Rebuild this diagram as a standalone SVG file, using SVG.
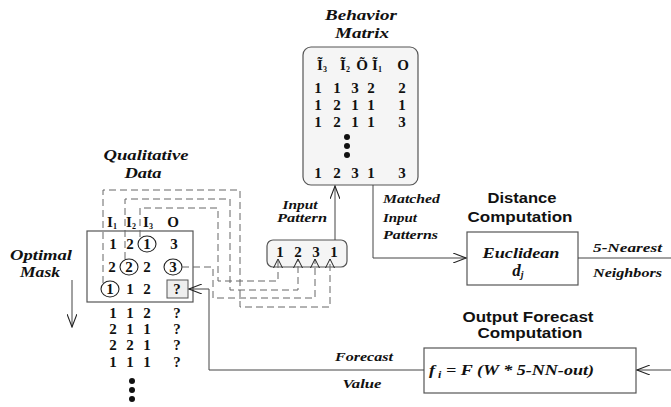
<svg xmlns="http://www.w3.org/2000/svg" width="671" height="407" viewBox="0 0 671 407">
<style>
  .bi { font-family: "Liberation Serif", serif; font-weight: bold; font-style: italic; fill: #111; }
  .it { font-family: "Liberation Serif", serif; font-style: italic; font-weight: bold; fill: #111; }
  .bs { font-family: "Liberation Sans", sans-serif; font-weight: bold; fill: #111; }
  .num { font-family: "Liberation Serif", serif; font-weight: bold; font-size: 15px; fill: #111; text-anchor: middle; }
  .box { fill: #fff; stroke: #555; stroke-width: 1.2; }
  .rbox { fill: #f5f5f5; stroke: #555; stroke-width: 1.2; }
  .line { fill: none; stroke: #444; stroke-width: 1; }
  .dash { fill: none; stroke: #666; stroke-width: 1; stroke-dasharray: 7 4; }
  .circ { fill: none; stroke: #222; stroke-width: 1.1; }
</style>
<defs>
  <marker id="v" viewBox="0 0 14 10" refX="13" refY="5" markerWidth="14" markerHeight="10" markerUnits="userSpaceOnUse" orient="auto">
    <path d="M0,0 L13,5 L0,10" fill="none" stroke="#222" stroke-width="1.1"/>
  </marker>
  <marker id="vs" viewBox="0 0 10 10" refX="9" refY="5" markerWidth="10" markerHeight="10" markerUnits="userSpaceOnUse" orient="auto">
    <path d="M0,0.5 L9,5 L0,9.5" fill="none" stroke="#222" stroke-width="1"/>
  </marker>
</defs>

<g id="behavior-matrix">
  <text class="bi" x="361" y="20" font-size="14" text-anchor="middle" textLength="72" lengthAdjust="spacingAndGlyphs">Behavior</text>
  <text class="bi" x="362" y="38" font-size="14" text-anchor="middle" textLength="54" lengthAdjust="spacingAndGlyphs">Matrix</text>
  <rect class="rbox" x="303" y="47" width="115" height="138" rx="8"/>
  <text class="num" x="322" y="70">Ĩ<tspan font-size="8" dy="2">3</tspan></text>
  <text class="num" x="345" y="70">Ĩ<tspan font-size="8" dy="2">2</tspan></text>
  <text class="num" x="362" y="70">Õ</text>
  <text class="num" x="377" y="70">Ĩ<tspan font-size="8" dy="2">1</tspan></text>
  <text class="num" x="403" y="70">O</text>
  <g>
    <text class="num" x="318" y="93">1</text><text class="num" x="337" y="93">1</text><text class="num" x="355" y="93">3</text><text class="num" x="371" y="93">2</text><text class="num" x="402" y="93">2</text>
    <text class="num" x="318" y="110">1</text><text class="num" x="337" y="110">2</text><text class="num" x="355" y="110">1</text><text class="num" x="371" y="110">1</text><text class="num" x="402" y="110">1</text>
    <text class="num" x="318" y="127">1</text><text class="num" x="337" y="127">2</text><text class="num" x="355" y="127">1</text><text class="num" x="371" y="127">1</text><text class="num" x="402" y="127">3</text>
    <circle cx="347" cy="137" r="3" fill="#111"/><circle cx="347" cy="146" r="3" fill="#111"/><circle cx="347" cy="155" r="3" fill="#111"/>
    <text class="num" x="318" y="178">1</text><text class="num" x="337" y="178">2</text><text class="num" x="355" y="178">3</text><text class="num" x="371" y="178">1</text><text class="num" x="402" y="178">3</text>
  </g>
</g>

<g id="qualitative-data">
  <text class="bi" x="146" y="160" font-size="15" text-anchor="middle" textLength="85" lengthAdjust="spacingAndGlyphs">Qualitative</text>
  <text class="bi" x="143" y="178" font-size="15" text-anchor="middle" textLength="37" lengthAdjust="spacingAndGlyphs">Data</text>
  <text class="num" x="112" y="227">I<tspan font-size="8" dy="2">1</tspan></text>
  <text class="num" x="131" y="227">I<tspan font-size="8" dy="2">2</tspan></text>
  <text class="num" x="148" y="227">I<tspan font-size="8" dy="2">3</tspan></text>
  <text class="num" x="173" y="227">O</text>
  <rect class="box" x="87" y="231" width="106" height="71" fill="none"/>
  <rect x="167" y="280" width="21" height="18" fill="#eee" stroke="#555" stroke-width="1"/>
  <text class="num" x="113" y="249">1</text><text class="num" x="130" y="249">2</text><text class="num" x="147" y="249">1</text><text class="num" x="174" y="249">3</text>
  <text class="num" x="112" y="272">2</text><text class="num" x="129" y="272">2</text><text class="num" x="147" y="272">2</text><text class="num" x="173" y="272">3</text>
  <text class="num" x="110" y="294">1</text><text class="num" x="130" y="294">1</text><text class="num" x="147" y="294">2</text><text class="num" x="177" y="294">?</text>
  <ellipse class="circ" cx="147" cy="244" rx="9" ry="8"/>
  <ellipse class="circ" cx="129" cy="267" rx="9" ry="8"/>
  <ellipse class="circ" cx="173" cy="267" rx="9" ry="8"/>
  <ellipse class="circ" cx="110" cy="289" rx="9" ry="8"/>
  <text class="num" x="113" y="318">1</text><text class="num" x="130" y="318">1</text><text class="num" x="147" y="318">2</text><text class="num" x="177" y="318">?</text>
  <text class="num" x="113" y="334">2</text><text class="num" x="130" y="334">1</text><text class="num" x="147" y="334">1</text><text class="num" x="177" y="334">?</text>
  <text class="num" x="113" y="350">2</text><text class="num" x="130" y="350">2</text><text class="num" x="147" y="350">1</text><text class="num" x="177" y="350">?</text>
  <text class="num" x="113" y="367">1</text><text class="num" x="130" y="367">1</text><text class="num" x="147" y="367">1</text><text class="num" x="177" y="367">?</text>
  <circle cx="132" cy="381" r="3" fill="#111"/><circle cx="132" cy="390" r="3" fill="#111"/><circle cx="132" cy="399" r="3" fill="#111"/>
</g>

<g id="optimal-mask">
  <text class="bi" x="41" y="260" font-size="14" text-anchor="middle" textLength="62" lengthAdjust="spacingAndGlyphs">Optimal</text>
  <text class="bi" x="40" y="277" font-size="14" text-anchor="middle" textLength="40" lengthAdjust="spacingAndGlyphs">Mask</text>
</g>

<g id="input-pattern">
  <text class="it" x="300" y="209" font-size="12" text-anchor="middle" textLength="35" lengthAdjust="spacingAndGlyphs">Input</text>
  <text class="it" x="302" y="222" font-size="12" text-anchor="middle" textLength="50" lengthAdjust="spacingAndGlyphs">Pattern</text>
  <rect class="rbox" x="267" y="240" width="80" height="27" rx="6"/>
  <text class="num" x="280" y="257">1</text><text class="num" x="298" y="257">2</text><text class="num" x="316" y="257">3</text><text class="num" x="334" y="257">1</text>
</g>

<g id="distance-computation">
  <text class="bs" x="522" y="203" font-size="14" text-anchor="middle" textLength="69" lengthAdjust="spacingAndGlyphs">Distance</text>
  <text class="bs" x="520" y="222" font-size="14" text-anchor="middle" textLength="105" lengthAdjust="spacingAndGlyphs">Computation</text>
  <rect class="box" x="467" y="232" width="111" height="53"/>
  <text class="bi" x="521" y="258" font-size="14" text-anchor="middle" textLength="77" lengthAdjust="spacingAndGlyphs">Euclidean</text>
  <text class="bi" x="518" y="276" font-size="17" text-anchor="middle">d<tspan font-size="10" dy="2">j</tspan></text>
</g>

<g id="output-forecast">
  <text class="bs" x="528" y="322" font-size="14" text-anchor="middle" textLength="131" lengthAdjust="spacingAndGlyphs">Output Forecast</text>
  <text class="bs" x="530" y="338" font-size="14" text-anchor="middle" textLength="105" lengthAdjust="spacingAndGlyphs">Computation</text>
  <rect class="box" x="424" y="348" width="212" height="45"/>
  <text class="bi" x="429" y="375" font-size="15" textLength="165" lengthAdjust="spacingAndGlyphs">f<tspan font-size="10" dy="3"> i</tspan><tspan dy="-3"> = F (W * 5-NN-out)</tspan></text>
</g>

<g id="connectors">
  <path class="dash" d="M103,283 V190 H240 V307 H330 V259" marker-end="url(#vs)"/>
  <path class="dash" d="M125,259 V199 H230 V290 H298 V259" marker-end="url(#vs)"/>
  <path class="dash" d="M140,237 V208 H218 V281 H278 V259" marker-end="url(#vs)"/>
  <path class="dash" d="M182,267 H213 V298 H315 V259" marker-end="url(#vs)"/>
  <path class="line" d="M335,240 V186" marker-end="url(#v)"/>
  <path class="line" d="M373,185 V258 H466" marker-end="url(#v)"/>
  <path class="line" d="M578,258 H671"/>
  <path class="line" d="M671,370 H637" marker-end="url(#v)"/>
  <path class="line" d="M424,370 H209 V289 H189" marker-end="url(#v)"/>
  <path class="line" d="M72,280 V327" marker-end="url(#v)"/>
  <text class="it" x="383" y="203" font-size="12" textLength="57" lengthAdjust="spacingAndGlyphs">Matched</text>
  <text class="it" x="383" y="222" font-size="12" textLength="34" lengthAdjust="spacingAndGlyphs">Input</text>
  <text class="it" x="383" y="239" font-size="12" textLength="55" lengthAdjust="spacingAndGlyphs">Patterns</text>
  <text class="it" x="593" y="252" font-size="12" textLength="69" lengthAdjust="spacingAndGlyphs">5-Nearest</text>
  <text class="it" x="593" y="277" font-size="12" textLength="69" lengthAdjust="spacingAndGlyphs">Neighbors</text>
  <text class="it" x="364" y="361" font-size="12" text-anchor="middle" textLength="58" lengthAdjust="spacingAndGlyphs">Forecast</text>
  <text class="it" x="362" y="388" font-size="12" text-anchor="middle" textLength="39" lengthAdjust="spacingAndGlyphs">Value</text>
</g>
</svg>
